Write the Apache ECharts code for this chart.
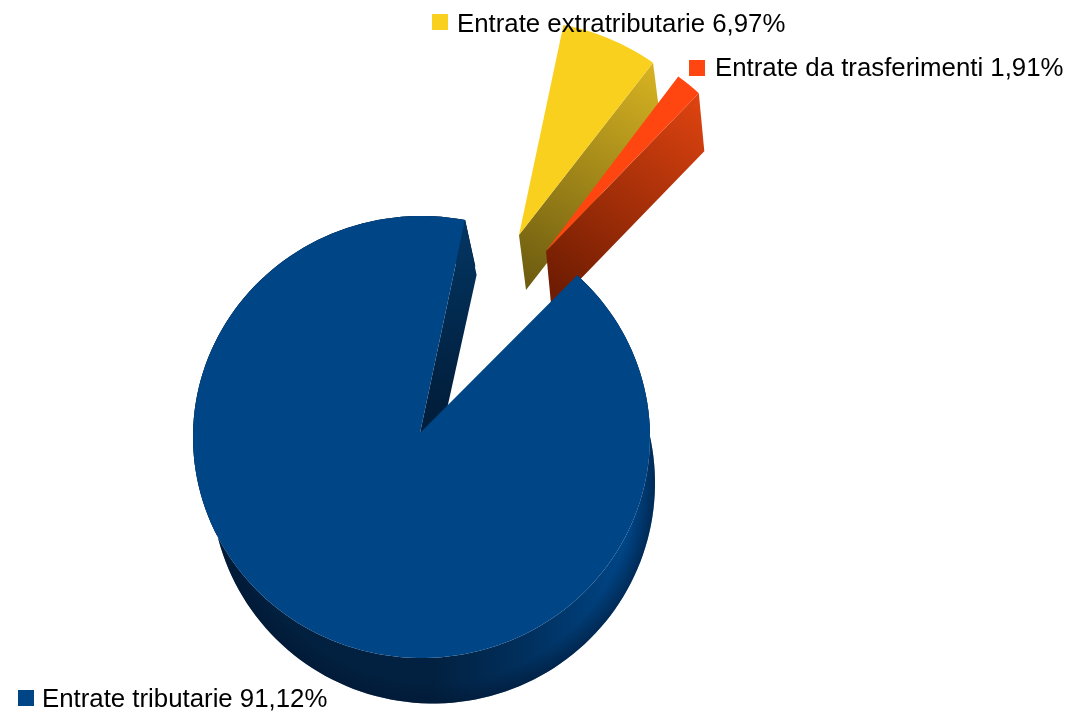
<!DOCTYPE html>
<html>
<head>
<meta charset="utf-8">
<title>Entrate</title>
<script src="https://cdn.jsdelivr.net/npm/echarts@6/dist/echarts.min.js"></script>
<style>html,body{margin:0;padding:0;background:#fff}#chart{width:1073px;height:715px}</style>
</head>
<body>
<div id="chart"></div>
<script>
// Slices in clockwise order, starting from the top edge of the yellow wedge.
const categories = ['Entrate extratributarie', 'Entrate da trasferimenti', 'Entrate tributarie'];
const shares = [6.97, 1.91, 91.12];
const colors = ['#f9d01e', '#ff4510', '#004586'];

// Where each exploded wedge sits: apex, rim radii, extrusion depth.
const START_ANGLE = 79;
const wedges = [
  { apex: [519, 235], rx: 225, ry: 218, dx: 7, dy: 55, taper: 0 },
  { apex: [546, 251], rx: 222, ry: 221, dx: 5.5, dy: 58, taper: 0 },
  { apex: [420, 433], rx: 228.5, ry: 221, dx: 11.5, dy: 46, taper: 9 / 217,
    base: { cx: 433, cy: 483, rx: 222, ry: 220.5 } }
];
const captions = [
  { box: [432, 14], text: [457, 25] },
  { box: [689, 60], text: [715, 69] },
  { box: [18, 690], text: [42, 700] }
];

const linear = (x, y, x2, y2, stops) => ({
  type: 'linear', x, y, x2, y2, global: true,
  colorStops: stops.map((color, i) => ({ offset: i / (stops.length - 1), color }))
});

const endWallFills = [
  linear(652, 62, 527, 290, ['#d8b422', '#6b5a10']),
  linear(698, 92, 560, 295, ['#e04410', '#6e1c02']),
  linear(445, 240, 475, 400, ['#03345f', '#011e3c'])
];

function rimPoint(w, deg) {
  const a = deg * Math.PI / 180;
  return [w.apex[0] + 1.5 + w.rx * Math.cos(a), w.apex[1] + 4 - w.ry * Math.sin(a)];
}

function basePoint(b, deg) {
  const a = deg * Math.PI / 180;
  return [b.cx + b.rx * Math.cos(a), b.cy - b.ry * Math.sin(a)];
}

function lower(w, p) {
  const extra = w.taper * Math.max(0, w.apex[1] + 4 - p[1]);
  return [p[0] + w.dx, p[1] + w.dy + extra];
}

function renderSlice(params, api) {
  const i = params.dataIndex;
  const w = wedges[i];
  let before = 0;
  for (let k = 0; k < i; k++) before += shares[k];
  const value = api.value(0);
  const from = START_ANGLE - before * 3.6;
  const to = from - value * 3.6;

  const rim = [];
  const steps = Math.max(4, Math.round((from - to) / 2));
  for (let s = 0; s <= steps; s++) rim.push(rimPoint(w, from + (to - from) * s / steps));

  const children = [];
  const addPolygon = (points, fill) => children.push({
    type: 'polygon', shape: { points }, style: { fill }, silent: true
  });

  // Outer wall of the large wedge: dark on the left, fading into the top colour on the right.
  if (w.base) {
    const floor = [];
    for (let s = steps; s >= 0; s--) floor.push(basePoint(w.base, from + (to - from) * s / steps));
    const wall = rim.concat(floor);
    addPolygon(wall, linear(430, 0, 625, 0, ['#02203f', '#01305e', '#004586']));
    addPolygon(wall, {
      type: 'radial', x: w.base.cx, y: w.base.cy, r: w.base.rx + 1, global: true,
      colorStops: [
        { offset: 0, color: 'rgba(0,22,50,0)' },
        { offset: 0.9, color: 'rgba(0,22,50,0)' },
        { offset: 1, color: 'rgba(0,22,50,0.6)' }
      ]
    });
  }

  // Cut face on the clockwise end of the wedge.
  const corner = rim[rim.length - 1];
  addPolygon([w.apex, corner, lower(w, corner), lower(w, w.apex)], endWallFills[i]);

  // Top face.
  addPolygon([w.apex].concat(rim), colors[i]);

  // Caption with its colour key.
  const c = captions[i];
  children.push({
    type: 'rect', shape: { x: c.box[0], y: c.box[1], width: 16, height: 16 },
    style: { fill: colors[i] }, silent: true
  });
  children.push({
    type: 'text', x: c.text[0], y: c.text[1], silent: true,
    style: {
      text: categories[i] + ' ' + value.toFixed(2).replace('.', ',') + '%',
      font: '25.8px "Liberation Sans", Arial, sans-serif',
      fill: '#000', textAlign: 'left', textVerticalAlign: 'middle'
    }
  });
  return { type: 'group', children };
}

const chart = echarts.init(document.getElementById('chart'), null, { renderer: 'canvas' });
chart.setOption({
  backgroundColor: '#ffffff',
  animation: false,
  series: [{
    type: 'custom',
    coordinateSystem: 'none',
    renderItem: renderSlice,
    data: shares.map((v, i) => ({ name: categories[i], value: [v] }))
  }]
});
</script>
</body>
</html>
